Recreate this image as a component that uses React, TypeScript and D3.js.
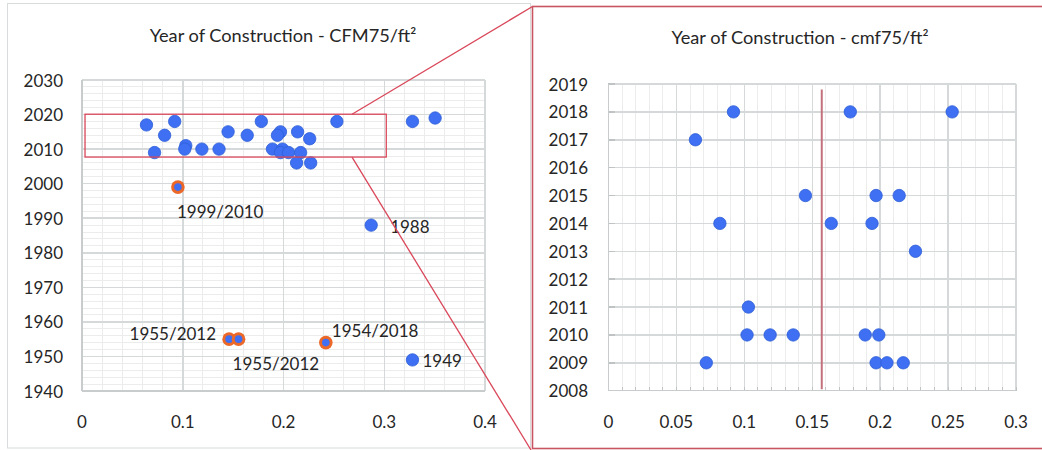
import { useEffect } from "react";
import * as d3 from "d3";

// year of construction vs CFM75/ft2, zoomed band 2008-2019
const zoomX = [
  0.092, 0.178, 0.253, 0.064, 0.145, 0.197, 0.214, 0.082, 0.164, 0.194, 0.226,
  0.103, 0.102, 0.119, 0.136, 0.189, 0.199, 0.072, 0.197, 0.205, 0.217,
];
const zoomYear = [
  2018, 2018, 2018, 2017, 2015, 2015, 2015, 2014, 2014, 2014, 2013, 2011, 2010,
  2010, 2010, 2010, 2010, 2009, 2009, 2009, 2009,
];
// extra points only in the full view
const extraX = [0.213, 0.227, 0.328, 0.3505, 0.287, 0.328];
const extraYear = [2006, 2006, 2018, 2019, 1988, 1949];
// renovated houses (built / renovated)
const renoX = [0.0952, 0.146, 0.1554, 0.242];
const renoYear = [1999, 1955, 1955, 1954];
const renoLabels = ["1999/2010", "1955/2012", "1955/2012", "1954/2018"];
const medianLine = 0.157;

const leftXTicks = [0, 0.1, 0.2, 0.3, 0.4];
const leftYTicks = [1940, 1950, 1960, 1970, 1980, 1990, 2000, 2010, 2020, 2030];
const rightXTicks = [0, 0.05, 0.1, 0.15, 0.2, 0.25, 0.3];
const rightYTicks = d3.range(2008, 2020);

const FONT = "Lato, 'Open Sans', sans-serif";
const BLUE = "#3f6ff2";
const BLUE_STROKE = "#2f5fd6";
const ORANGE = "#ec6828";
const RED = "#d9475a";
const MAJOR = "#d6d9d9";
const MINOR = "#ececec";
const TXT = "#262626";

export default function App() {
  useEffect(() => {
    document.body.style.margin = "0";
  }, []);

  const lx = d3.scaleLinear().domain([0, 0.4]).range([82, 485]);
  const ly = d3.scaleLinear().domain([1940, 2030]).range([391, 80]);
  const rx = d3.scaleLinear().domain([0, 0.3]).range([608.5, 1016]);
  const ry = d3.scaleLinear().domain([2008, 2019]).range([390.7, 84]);

  const leftX = [...zoomX, ...extraX];
  const leftYear = [...zoomYear, ...extraYear];

  const leftMinorX = d3.range(0, 0.4001, 0.02);
  const leftMinorY = d3.range(1940, 2030.1, 2);
  const rightMinorX = d3.range(0, 0.3001, 0.01);

  // zoom rectangle (data coords)
  const boxX0 = lx(0.003);
  const boxX1 = lx(0.302);
  const boxY0 = ly(2020.1);
  const boxY1 = ly(2007.7);
  const connX = lx(0.268);

  // label offsets for annotated points
  const labelOff: [number, number, string][] = [
    [-1, 24, "start"],
    [-13, -6, "end"],
    [-6, 24, "start"],
    [6, -12, "start"],
  ];

  return (
    <svg
      width={1042}
      height={450}
      style={{ position: "absolute", left: 0, top: 0, background: "#fff" }}
      fontFamily={FONT}
    >
      {/* left panel frame */}
      <rect x={7.5} y={3.5} width={523} height={444.5} fill="none" stroke="#d9dcdc" strokeWidth={1} />
      <text x={283} y={35} textAnchor="middle" dominantBaseline="central" fontSize={18.2} fill={TXT}>
        Year of Construction - CFM75/ft²
      </text>

      {/* left grid */}
      <g shapeRendering="crispEdges">
        {leftMinorX.map((v) => (
          <line key={`lmx${v}`} x1={lx(v)} x2={lx(v)} y1={ly(2030)} y2={ly(1940)} stroke={MINOR} />
        ))}
        {leftMinorY.map((v) => (
          <line key={`lmy${v}`} x1={lx(0)} x2={lx(0.4)} y1={ly(v)} y2={ly(v)} stroke={MINOR} />
        ))}
        {leftXTicks.map((v) => (
          <line key={`lgx${v}`} x1={lx(v)} x2={lx(v)} y1={ly(2030)} y2={ly(1940)} stroke={MAJOR} strokeWidth={1.5} />
        ))}
        {leftYTicks.map((v) => (
          <line key={`lgy${v}`} x1={lx(0)} x2={lx(0.4)} y1={ly(v)} y2={ly(v)} stroke={MAJOR} strokeWidth={1.5} />
        ))}
        <line x1={lx(0)} x2={lx(0)} y1={ly(2030)} y2={ly(1940)} stroke="#c8cccc" strokeWidth={1.5} />
        <line x1={lx(0)} x2={lx(0.4)} y1={ly(1940)} y2={ly(1940)} stroke="#c8cccc" strokeWidth={1.5} />
      </g>
      {leftYTicks.map((v) => (
        <text key={`lyt${v}`} x={63} y={ly(v)} textAnchor="end" dominantBaseline="central" fontSize={17} fill={TXT}>
          {v}
        </text>
      ))}
      {leftXTicks.map((v) => (
        <text key={`lxt${v}`} x={lx(v)} y={421} textAnchor="middle" dominantBaseline="central" fontSize={17} fill={TXT}>
          {v}
        </text>
      ))}

      {/* left points */}
      {leftX.map((v, i) => (
        <circle key={`lp${i}`} cx={lx(v)} cy={ly(leftYear[i])} r={6.2} fill={BLUE} stroke={BLUE_STROKE} strokeWidth={0.8} />
      ))}
      {renoX.map((v, i) => (
        <g key={`rp${i}`}>
          <circle cx={lx(v)} cy={ly(renoYear[i])} r={6.8} fill={ORANGE} />
          <circle cx={lx(v)} cy={ly(renoYear[i])} r={3.8} fill={BLUE} />
        </g>
      ))}
      {renoX.map((v, i) => (
        <text
          key={`rl${i}`}
          x={lx(v) + labelOff[i][0]}
          y={ly(renoYear[i]) + labelOff[i][1]}
          textAnchor={labelOff[i][2]}
          dominantBaseline="central"
          fontSize={17}
          fill={TXT}
        >
          {renoLabels[i]}
        </text>
      ))}
      <text x={lx(0.287) + 19} y={ly(1988) + 1} dominantBaseline="central" fontSize={17} fill={TXT}>
        1988
      </text>
      <text x={lx(0.328) + 10} y={ly(1949) + 1} dominantBaseline="central" fontSize={17} fill={TXT}>
        1949
      </text>

      {/* zoom box and connectors */}
      <rect x={boxX0} y={boxY0} width={boxX1 - boxX0} height={boxY1 - boxY0} fill="none" stroke={RED} strokeWidth={1.3} />
      <line x1={connX} y1={boxY0} x2={532.5} y2={6.5} stroke={RED} strokeWidth={1.3} />
      <line x1={connX} y1={boxY1} x2={531} y2={450} stroke={RED} strokeWidth={1.3} />

      {/* right panel frame */}
      <rect x={532.5} y={6.5} width={520} height={442} fill="none" stroke="#c95462" strokeWidth={1.6} />
      <text x={800} y={37} textAnchor="middle" dominantBaseline="central" fontSize={18.2} fill={TXT}>
        Year of Construction - cmf75/ft²
      </text>

      {/* right grid */}
      <g shapeRendering="crispEdges">
        {rightMinorX.map((v) => (
          <line key={`rmx${v}`} x1={rx(v)} x2={rx(v)} y1={ry(2019)} y2={ry(2008)} stroke={MINOR} />
        ))}
        {rightXTicks.map((v) => (
          <line key={`rgx${v}`} x1={rx(v)} x2={rx(v)} y1={ry(2019)} y2={ry(2008)} stroke={MAJOR} strokeWidth={1.5} />
        ))}
        {rightYTicks.map((v) => (
          <line key={`rgy${v}`} x1={rx(0)} x2={rx(0.3)} y1={ry(v)} y2={ry(v)} stroke={MAJOR} strokeWidth={1.5} />
        ))}
        {rightYTicks.map((v) => (
          <line key={`rty${v}`} x1={rx(0) - 1} x2={rx(0) + 6} y1={ry(v)} y2={ry(v)} stroke="#bfc3c3" strokeWidth={1.5} />
        ))}
        {rightMinorX.map((v) => (
          <line key={`rtx${v}`} x1={rx(v)} x2={rx(v)} y1={ry(2008)} y2={ry(2008) - 4} stroke="#bfc3c3" />
        ))}
        <line x1={rx(0)} x2={rx(0)} y1={ry(2019)} y2={ry(2008)} stroke="#c8cccc" strokeWidth={1.5} />
        <line x1={rx(0)} x2={rx(0.3)} y1={ry(2008)} y2={ry(2008)} stroke="#c8cccc" strokeWidth={1.5} />
      </g>
      {rightYTicks.map((v) => (
        <text key={`ryt${v}`} x={588} y={ry(v)} textAnchor="end" dominantBaseline="central" fontSize={17} fill={TXT}>
          {v}
        </text>
      ))}
      {rightXTicks.map((v) => (
        <text key={`rxt${v}`} x={rx(v)} y={421} textAnchor="middle" dominantBaseline="central" fontSize={17} fill={TXT}>
          {v}
        </text>
      ))}

      <line x1={rx(medianLine)} x2={rx(medianLine)} y1={ry(2018.8)} y2={ry(2008.05)} stroke="#c4717d" strokeWidth={2} />

      {zoomX.map((v, i) => (
        <circle key={`zp${i}`} cx={rx(v)} cy={ry(zoomYear[i])} r={6.2} fill={BLUE} stroke={BLUE_STROKE} strokeWidth={0.8} />
      ))}
    </svg>
  );
}
